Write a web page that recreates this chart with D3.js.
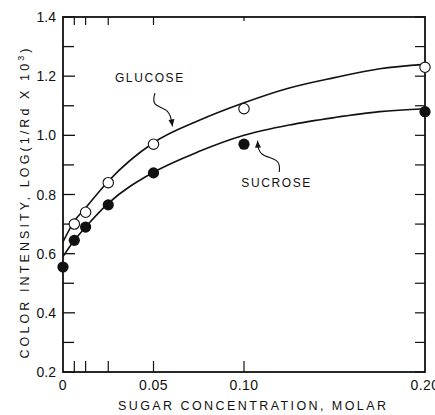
<!DOCTYPE html>
<html>
<head>
<meta charset="utf-8">
<script src="https://cdn.jsdelivr.net/npm/d3@7"></script>
<style>
  html, body { margin: 0; padding: 0; background: #fff; }
  svg { display: block; }
  text { font-family: "Liberation Sans", "DejaVu Sans", Arial, sans-serif; fill: #111; }
</style>
</head>
<body>
<svg id="chart" width="435" height="415"></svg>
<script>
// ---- data ----
const concentrations = [0, 0.00625, 0.0125, 0.025, 0.05, 0.1, 0.2];
const glucose = [null, 0.70, 0.74, 0.84, 0.97, 1.09, 1.23];
const sucrose = [0.555, 0.645, 0.69, 0.765, 0.873, 0.97, 1.08];
// smooth fitted curves as drawn
const fitX = [0, 0.00625, 0.0125, 0.025, 0.05, 0.075, 0.1, 0.125, 0.15, 0.175, 0.2];
const glucoseFit = [0.64, 0.71, 0.755, 0.845, 0.975, 1.05, 1.11, 1.16, 1.195, 1.225, 1.24];
const sucroseFit = [0.59, 0.645, 0.69, 0.77, 0.875, 0.945, 1.0, 1.035, 1.06, 1.08, 1.09];
const xTickValues = [0, 0.05, 0.1, 0.2];
const xTickLabels = ["0", "0.05", "0.10", "0.20"];
const yTickValues = [0.2, 0.4, 0.6, 0.8, 1.0, 1.2, 1.4];
const yTickLabels = ["0.2", "0.4", "0.6", "0.8", "1.0", "1.2", "1.4"];
const yMinorValues = [0.3, 0.5, 0.7, 0.9, 1.1, 1.3];
const xTitle = "SUGAR CONCENTRATION, MOLAR";
const yTitle = "COLOR INTENSITY, LOG(1/Rd X 10";
const annotations = [
  { label: "GLUCOSE", lx: 0.048, ly: 1.194, path: [[0.0508, 1.143], [0.049, 1.10], [0.059, 1.09], [0.0605, 1.03]] },
  { label: "SUCROSE", lx: 0.118, ly: 0.839, path: [[0.1195, 0.876], [0.120, 0.92], [0.108, 0.93], [0.1075, 0.982]] }
];

// ---- layout ----
const W = 435, H = 415;
const margin = { left: 63, right: 10, top: 17, bottom: 43 };
const svg = d3.select("#chart");
const x = d3.scaleLinear().domain([0, 0.2]).range([margin.left, W - margin.right]);
const y = d3.scaleLinear().domain([0.2, 1.4]).range([H - margin.bottom, margin.top]);
const x0 = x.range()[0], x1 = x.range()[1], y0 = y.range()[0], y1 = y.range()[1];

// frame
svg.append("rect").attr("x", x0).attr("y", y1).attr("width", x1 - x0).attr("height", y0 - y1)
  .attr("fill", "none").attr("stroke", "#111").attr("stroke-width", 1.8);

// left axis (inward ticks)
const gl = svg.append("g").attr("transform", `translate(${x0},0)`);
gl.selectAll("line.maj").data(yTickValues).join("line")
  .attr("x1", 0).attr("x2", 12).attr("y1", d => y(d)).attr("y2", d => y(d))
  .attr("stroke", "#111").attr("stroke-width", 1.3);
gl.selectAll("line.min").data(yMinorValues).join("line")
  .attr("x1", 0).attr("x2", 11).attr("y1", d => y(d)).attr("y2", d => y(d))
  .attr("stroke", "#111").attr("stroke-width", 1.3);
gl.selectAll("text").data(yTickValues).join("text")
  .attr("x", -7).attr("y", d => y(d)).attr("dy", "0.36em")
  .attr("text-anchor", "end").attr("font-size", 14)
  .text((d, i) => yTickLabels[i]);

// right axis ticks (inward)
svg.append("g").selectAll("line").data(yTickValues.concat(yMinorValues)).join("line")
  .attr("x1", x1).attr("x2", x1 - 10).attr("y1", d => y(d)).attr("y2", d => y(d))
  .attr("stroke", "#111").attr("stroke-width", 1.2);

// bottom ticks at sample concentrations
const dataTicks = concentrations.filter(d => d > 0 && d < 0.2);
svg.append("g").selectAll("line").data(dataTicks).join("line")
  .attr("x1", d => x(d)).attr("x2", d => x(d)).attr("y1", y0).attr("y2", y0 - 11)
  .attr("stroke", "#111").attr("stroke-width", 1.2);
// top ticks
svg.append("g").selectAll("line").data(dataTicks).join("line")
  .attr("x1", d => x(d)).attr("x2", d => x(d)).attr("y1", y1).attr("y2", d => y1 + (d >= 0.1 ? 4 : 8))
  .attr("stroke", "#111").attr("stroke-width", 1.2);

// x tick labels
svg.append("g").selectAll("text").data(xTickValues).join("text")
  .attr("x", d => x(d)).attr("y", y0 + 18)
  .attr("text-anchor", "middle").attr("font-size", 14).attr("letter-spacing", 0.5)
  .text((d, i) => xTickLabels[i]);

// axis titles
svg.append("text").attr("x", 252).attr("y", H - 5)
  .attr("text-anchor", "middle").attr("font-size", 12.5)
  .attr("textLength", 268).attr("lengthAdjust", "spacing")
  .text(xTitle);
const yt = svg.append("text")
  .attr("transform", `translate(29,${(y0 + y1) / 2 + 9}) rotate(-90)`)
  .attr("text-anchor", "middle").attr("font-size", 12.5)
  .attr("textLength", 310).attr("lengthAdjust", "spacing");
yt.append("tspan").text(yTitle);
yt.append("tspan").attr("dy", -5).attr("font-size", 9).text("3");
yt.append("tspan").attr("dy", 5).text(")");

// curves
const line = d3.line().x(d => x(d[0])).y(d => y(d[1])).curve(d3.curveMonotoneX);
svg.append("path").attr("d", line(fitX.map((v, i) => [v, glucoseFit[i]])))
  .attr("fill", "none").attr("stroke", "#111").attr("stroke-width", 1.6);
svg.append("path").attr("d", line(fitX.map((v, i) => [v, sucroseFit[i]])))
  .attr("fill", "none").attr("stroke", "#111").attr("stroke-width", 1.6);

// points
svg.append("g").selectAll("circle")
  .data(concentrations.map((c, i) => [c, glucose[i]]).filter(d => d[1] != null)).join("circle")
  .attr("cx", d => x(d[0])).attr("cy", d => y(d[1])).attr("r", 5.2)
  .attr("fill", "#fff").attr("stroke", "#111").attr("stroke-width", 1.1);
svg.append("g").selectAll("circle")
  .data(concentrations.map((c, i) => [c, sucrose[i]])).join("circle")
  .attr("cx", d => x(d[0])).attr("cy", d => y(d[1])).attr("r", 5.6)
  .attr("fill", "#111");

// annotations
const ann = d3.line().x(d => x(d[0])).y(d => y(d[1])).curve(d3.curveBasis);
annotations.forEach(a => {
  svg.append("text").attr("x", x(a.lx)).attr("y", y(a.ly)).attr("dy", "0.36em")
    .attr("text-anchor", "middle").attr("font-size", 12).attr("letter-spacing", 1.6)
    .text(a.label);
  svg.append("path").attr("d", ann(a.path)).attr("fill", "none")
    .attr("stroke", "#111").attr("stroke-width", 1.1);
  const p = a.path[a.path.length - 1], q = a.path[a.path.length - 2];
  const px = x(p[0]), py = y(p[1]);
  const ang = Math.atan2(py - y(q[1]), px - x(q[0]));
  const L = 7, Wd = 3;
  const bx = px - L * Math.cos(ang), by = py - L * Math.sin(ang);
  svg.append("path")
    .attr("d", `M${px},${py} L${bx + Wd * Math.sin(ang)},${by - Wd * Math.cos(ang)} L${bx - Wd * Math.sin(ang)},${by + Wd * Math.cos(ang)} Z`)
    .attr("fill", "#111");
});
</script>
</body>
</html>
